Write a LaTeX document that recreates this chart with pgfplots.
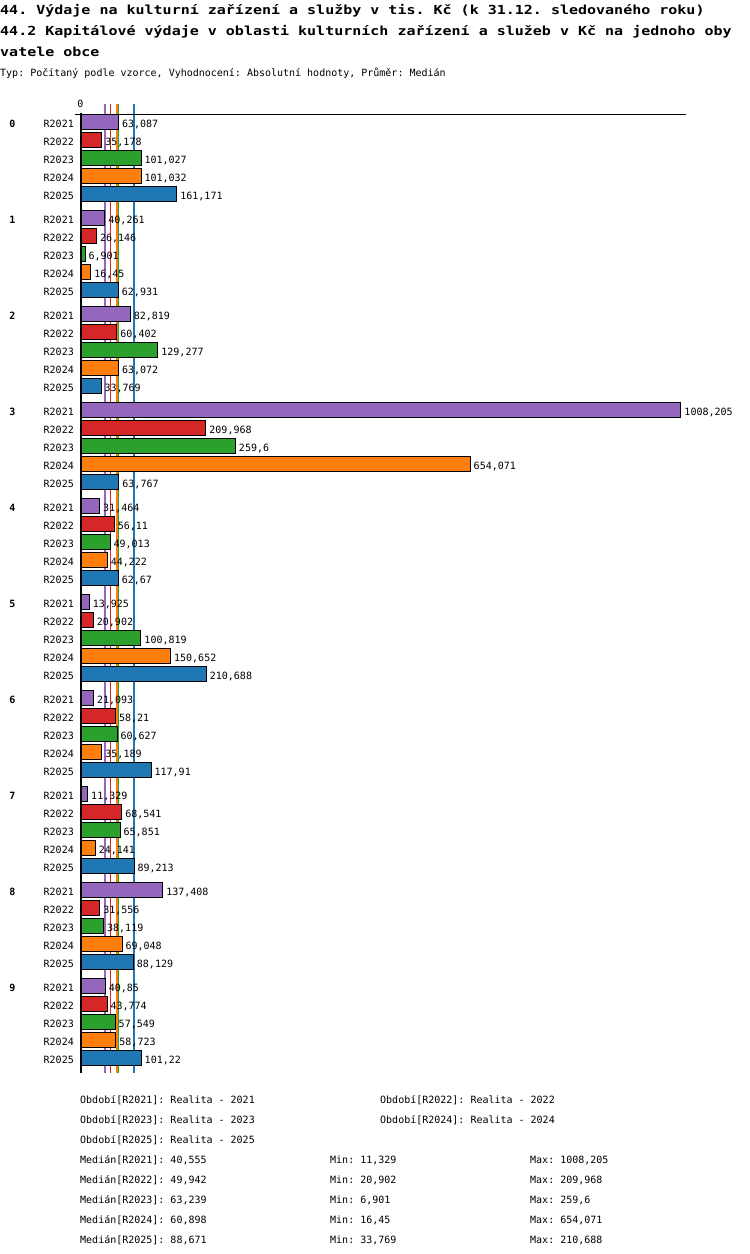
\documentclass[border=0pt]{standalone}
\usepackage{fontspec}
\setmainfont{DejaVu Sans Mono}
\newfontfamily\titlefont[FakeStretch=1.2]{DejaVu Sans Mono Bold}
\usepackage{pgfplots}
\usepackage{pgfplotstable}
\pgfplotsset{compat=1.18}
\definecolor{serA}{HTML}{9467BD}
\definecolor{serB}{HTML}{D62728}
\definecolor{serC}{HTML}{2CA02C}
\definecolor{serD}{HTML}{FF7F0E}
\definecolor{serE}{HTML}{1F77B4}
\pgfkeys{/pgf/number format/.cd, use comma, 1000 sep={}, precision=3, assume math mode=true}
\pgfplotstableread{
g a b c d e
0 63.087 35.178 101.027 101.032 161.171
1 40.261 26.146 6.901 16.45 62.931
2 82.819 60.402 129.277 63.072 33.769
3 1008.205 209.968 259.6 654.071 63.767
4 31.464 56.11 49.013 44.222 62.67
5 13.925 20.902 100.819 150.652 210.688
6 21.093 58.21 60.627 35.189 117.91
7 11.329 68.541 65.851 24.141 89.213
8 137.408 31.556 38.119 69.048 88.129
9 40.85 43.774 57.549 58.723 101.22
}\data
\newcommand{\sm}{\fontsize{10}{12}\selectfont}
\frenchspacing
\begin{document}
\frenchspacing
\begin{tikzpicture}
\useasboundingbox (0,0) rectangle (750pt,-1254pt);
\node[anchor=base west, inner sep=0pt, font=\titlefont\fontsize{12.5}{14}\selectfont] at (0pt,-14pt) {44. Výdaje na kulturní zařízení a služby v tis. Kč (k 31.12. sledovaného roku)};
\node[anchor=base west, inner sep=0pt, font=\titlefont\fontsize{12.5}{14}\selectfont] at (0pt,-35pt) {44.2 Kapitálové výdaje v oblasti kulturních zařízení a služeb v Kč na jednoho oby};
\node[anchor=base west, inner sep=0pt, font=\titlefont\fontsize{12.5}{14}\selectfont] at (0pt,-56pt) {vatele obce};
\node[anchor=base west, inner sep=0pt, font=\sm] at (0pt,-76pt) {Typ: Počítaný podle vzorce, Vyhodnocení: Absolutní hodnoty, Průměr: Medián};
\node[anchor=base, inner sep=0pt, font=\sm] at (80.5pt,-107pt) {0};
\foreach \g in {0,...,9} {
  \node[anchor=base, inner sep=0pt, font=\sm\bfseries] at (12.5pt,{-(127+96*\g)*1pt}) {\g};
}
\begin{axis}[
  at={(81pt,-114pt)}, anchor=north west,
  x=0.5951pt, y=1pt, y dir=reverse,
  xmin=0, xmax=1016.6, ymin=114, ymax=1073,
  axis line style={draw=none}, clip=false,
  xtick=\empty,
  major tick length=0pt,
  ytick={122,140,158,176,194,218,236,254,272,290,314,332,350,368,386,410,428,446,464,482,506,524,542,560,578,602,620,638,656,674,698,716,734,752,770,794,812,830,848,866,890,908,926,944,962,986,1004,1022,1040,1058},
  yticklabels={R2021,R2022,R2023,R2024,R2025,R2021,R2022,R2023,R2024,R2025,R2021,R2022,R2023,R2024,R2025,R2021,R2022,R2023,R2024,R2025,R2021,R2022,R2023,R2024,R2025,R2021,R2022,R2023,R2024,R2025,R2021,R2022,R2023,R2024,R2025,R2021,R2022,R2023,R2024,R2025,R2021,R2022,R2023,R2024,R2025,R2021,R2022,R2023,R2024,R2025},
  yticklabel style={font=\sm, inner sep=0pt, anchor=base east, xshift=-7pt, yshift=-5pt},
]
% median lines
\addplot[draw=serA, line width=1.5pt, forget plot] coordinates {(40.555,104) (40.555,1073)};
\addplot[draw=serB, line width=1.5pt, forget plot] coordinates {(49.942,104) (49.942,1073)};
\addplot[draw=serC, line width=1.5pt, forget plot] coordinates {(63.239,104) (63.239,1073)};
\addplot[draw=serD, line width=1.5pt, forget plot] coordinates {(60.898,104) (60.898,1073)};
\addplot[draw=serE, line width=1.5pt, forget plot] coordinates {(88.671,104) (88.671,1073)};
% bars
\pgfplotsset{every axis plot/.append style={}}
\pgfplotsset{barsty/.style={xbar, bar width=14.5, bar shift=0pt, draw=black, line width=1pt, point meta=x,
  nodes near coords={\pgfmathprintnumber{\pgfplotspointmeta}},
  every node near coord/.style={font=\sm, anchor=base west, inner xsep=3pt, inner ysep=0pt, yshift=-5pt, text=black}}}
\addplot[barsty, fill=serA] table[x=a, y expr={122+96*\thisrow{g}}] {\data};
\addplot[barsty, fill=serB] table[x=b, y expr={140+96*\thisrow{g}}] {\data};
\addplot[barsty, fill=serC] table[x=c, y expr={158+96*\thisrow{g}}] {\data};
\addplot[barsty, fill=serD] table[x=d, y expr={176+96*\thisrow{g}}] {\data};
\addplot[barsty, fill=serE] table[x=e, y expr={194+96*\thisrow{g}}] {\data};
\draw[line width=2pt] (axis cs:0,113) -- (axis cs:0,1073);
\draw[line width=1pt] (axis cs:-10,114) -- (axis cs:1016.6,114);
\end{axis}
\begin{scope}[every node/.style={anchor=base west, inner sep=0pt, font=\sm}]
\node at (80pt,-1103pt) {Období[R2021]: Realita - 2021};
\node at (380pt,-1103pt) {Období[R2022]: Realita - 2022};
\node at (80pt,-1123pt) {Období[R2023]: Realita - 2023};
\node at (380pt,-1123pt) {Období[R2024]: Realita - 2024};
\node at (80pt,-1143pt) {Období[R2025]: Realita - 2025};
\node at (80pt,-1163pt) {Medián[R2021]: 40,555};
\node at (330pt,-1163pt) {Min: 11,329};
\node at (530pt,-1163pt) {Max: 1008,205};
\node at (80pt,-1183pt) {Medián[R2022]: 49,942};
\node at (330pt,-1183pt) {Min: 20,902};
\node at (530pt,-1183pt) {Max: 209,968};
\node at (80pt,-1203pt) {Medián[R2023]: 63,239};
\node at (330pt,-1203pt) {Min: 6,901};
\node at (530pt,-1203pt) {Max: 259,6};
\node at (80pt,-1223pt) {Medián[R2024]: 60,898};
\node at (330pt,-1223pt) {Min: 16,45};
\node at (530pt,-1223pt) {Max: 654,071};
\node at (80pt,-1243pt) {Medián[R2025]: 88,671};
\node at (330pt,-1243pt) {Min: 33,769};
\node at (530pt,-1243pt) {Max: 210,688};
\end{scope}
\end{tikzpicture}
\end{document}
